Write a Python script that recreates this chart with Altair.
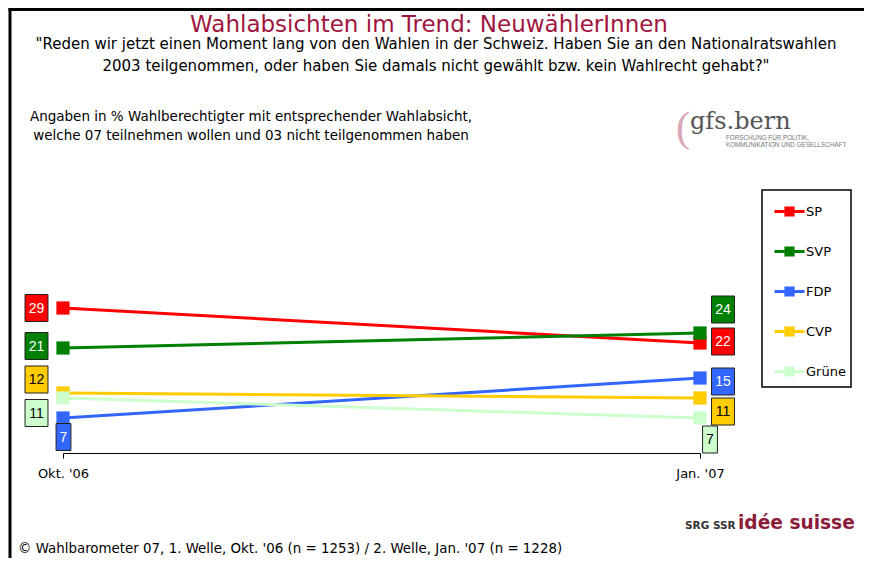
import altair as alt
import pandas as pd

# ---------------- data ----------------
dates = ["Okt. '06", "Jan. '07"]
parties = ["SP", "SVP", "FDP", "CVP", "Grüne"]
okt_values = [29, 21, 7, 12, 11]
jan_values = [22, 24, 15, 11, 7]

# ---------------- styles ----------------
colors = ["#FF0000", "#008000", "#3366FF", "#FFCC00", "#CCFFCC"]
text_colors = {"SP": "white", "SVP": "white", "FDP": "white", "CVP": "black", "Grüne": "black"}
# label box offsets (px) relative to the data point: (dx, dy)
label_offsets = {
    ("SP", 0): (-26.5, 0), ("SVP", 0): (-26.5, -2), ("CVP", 0): (-26.5, -13.5),
    ("Grüne", 0): (-26.5, 15), ("FDP", 0): (0.5, 19),
    ("SP", 1): (23, -1.5), ("SVP", 1): (23, -23.5), ("FDP", 1): (23, 3.5),
    ("CVP", 1): (23, 13.5), ("Grüne", 1): (10, 21.5),
}

rows = []
for p, o, j in zip(parties, okt_values, jan_values):
    rows.append({"party": p, "date": dates[0], "value": o})
    rows.append({"party": p, "date": dates[1], "value": j})
df = pd.DataFrame(rows)

SANS = "Liberation Sans, Arial, sans-serif"
TAHOMA = "DejaVu Sans, Verdana, sans-serif"

x_enc = alt.X(
    "date:N", sort=dates, title=None,
    scale=alt.Scale(type="point", padding=0),
    axis=alt.Axis(labelAngle=0, labelFont=TAHOMA, labelFontSize=13, labelColor="black",
                  domainColor="black", tickColor="black", tickSize=5, labelPadding=9,
                  grid=False),
)
y_enc = alt.Y("value:Q", scale=alt.Scale(domain=[0, 40]), axis=None)

color_scale = alt.Scale(domain=parties, range=colors)
legend = alt.Legend(
    title=None, orient="none", legendX=699, legendY=-63,
    strokeColor="black", fillColor="white", padding=5,
    symbolType="M-1,0H1M-0.24,-0.24H0.24V0.24H-0.24Z", symbolSize=900,
    symbolStrokeWidth=3, symbolOffset=6, symbolOpacity=1,
    labelFont=TAHOMA, labelFontSize=13, labelColor="black", labelOffset=0,
    rowPadding=13, labelExpr="datum.label + '\u00a0\u00a0\u00a0\u00a0'",
)

base = alt.Chart(df)
lines = base.mark_line(strokeWidth=3).encode(
    x=x_enc, y=y_enc,
    stroke=alt.Stroke("party:N", scale=color_scale, legend=legend),
    detail="party:N",
)
points = base.mark_point(shape="square", size=160, filled=True, opacity=1, strokeWidth=0.5).encode(
    x=x_enc, y=y_enc,
    fill=alt.Fill("party:N", scale=color_scale, legend=legend),
    stroke=alt.Stroke("party:N", scale=color_scale, legend=legend),
)

layers = [lines, points]

WIDE = "M-0.85,-1H0.85V1H-0.85Z"
NARROW_BOX = "M-0.55,-1H0.55V1H-0.55Z"
for i, p in enumerate(parties):
    for k, d in enumerate(dates):
        dx, dy = label_offsets[(p, k)]
        sub = base.transform_filter(
            (alt.datum.party == p) & (alt.datum.date == d)
        )
        val = okt_values[i] if k == 0 else jan_values[i]
        shape = WIDE if val >= 10 else NARROW_BOX
        box = sub.mark_point(shape=shape, size=729, filled=True, fill=colors[i],
                             stroke="#222222", strokeWidth=1, opacity=1,
                             xOffset=dx, yOffset=dy).encode(x=x_enc, y=y_enc)
        txt = sub.mark_text(font=SANS, fontSize=14, color=text_colors[p],
                            align="center", baseline="middle", dx=dx, dy=dy + 0.5).encode(
            x=x_enc, y=y_enc, text="value:Q")
        layers += [box, txt]

# ---------------- annotations (plot coordinates: page - (63, 253)) ----------------
one = pd.DataFrame({"a": [0]})


def note(text, x, y, **kw):
    return alt.Chart(one).mark_text(text=text, **kw).encode(x=alt.value(x), y=alt.value(y))


annots = [
    note("Wahlabsichten im Trend: NeuwählerInnen", 366, -221, font=TAHOMA, fontSize=23,
         color="#A0153E", align="center", baseline="alphabetic"),
    note("\"Reden wir jetzt einen Moment lang von den Wahlen in der Schweiz. Haben Sie an den Nationalratswahlen",
         373, -204, font=TAHOMA, fontSize=15, color="black", align="center", baseline="alphabetic"),
    note("2003 teilgenommen, oder haben Sie damals nicht gewählt bzw. kein Wahlrecht gehabt?\"",
         373, -182, font=TAHOMA, fontSize=15, color="black", align="center", baseline="alphabetic"),
    note("Angaben in % Wahlberechtigter mit entsprechender Wahlabsicht,", 188, -132,
         font=TAHOMA, fontSize=13.5, color="black", align="center", baseline="alphabetic"),
    note("welche 07 teilnehmen wollen und  03 nicht teilgenommen haben", 188, -113,
         font=TAHOMA, fontSize=13.5, color="black", align="center", baseline="alphabetic"),
    note("© Wahlbarometer 07, 1. Welle, Okt. '06 (n = 1253) / 2. Welle, Jan. '07 (n = 1228)", -45, 300,
         font=TAHOMA, fontSize=13.4, color="black", align="left", baseline="alphabetic"),
    note("(", 613, -112, font="Liberation Serif, serif", fontSize=42, color="#D9A7B8",
         align="left", baseline="alphabetic"),
    note("gfs.bern", 627, -124, font="DejaVu Serif, serif", fontSize=24, color="#555555",
         align="left", baseline="alphabetic"),
    note("FORSCHUNG FÜR POLITIK,", 663, -113, font=SANS, fontSize=6.3, color="#777777",
         align="left", baseline="alphabetic"),
    note("KOMMUNIKATION UND GESELLSCHAFT", 663, -106, font=SANS, fontSize=6.3, color="#777777",
         align="left", baseline="alphabetic"),
    note("SRG SSR", 622, 276, font=TAHOMA, fontSize=10.5, fontWeight="bold", color="#333333",
         align="left", baseline="alphabetic"),
    note("idée suisse", 675, 276, font=TAHOMA, fontSize=18.6, fontWeight="bold", color="#8C1C3C",
         align="left", baseline="alphabetic"),
]

frame_top = alt.Chart(one).mark_rule(color="black", strokeWidth=3).encode(
    x=alt.value(-54.5), x2=alt.value(801), y=alt.value(-243.5))
frame_left = alt.Chart(one).mark_rule(color="black", strokeWidth=3).encode(
    x=alt.value(-53), y=alt.value(-245), y2=alt.value(305))

chart = alt.layer(frame_top, frame_left, *layers, *annots).properties(
    width=637, height=200,
    autosize=alt.AutoSizeParams(type="none"),
    padding={"left": 55, "top": 245, "right": 164, "bottom": 105},
    background="white",
).configure_view(stroke=None).configure_legend(strokeWidth=1.5)

chart.save("out.html", embed_options={"renderer": "svg", "actions": False})
